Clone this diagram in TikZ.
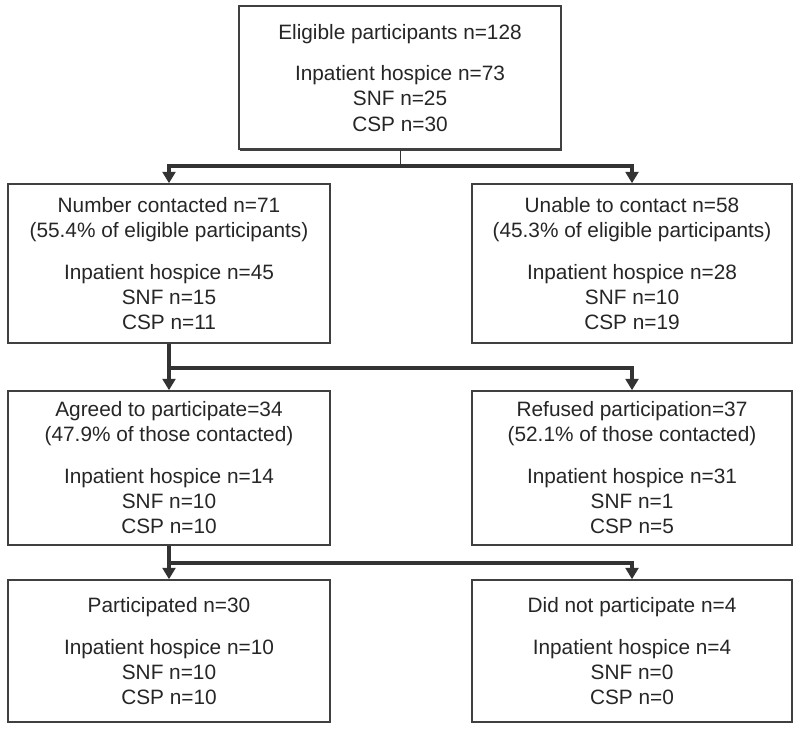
\documentclass[tikz,border=0pt]{standalone}
\usepackage{fontspec}
\setmainfont{Liberation Sans}
\usetikzlibrary{arrows.meta,shadows}

\tikzset{
  box/.style={draw=black!75, line width=1.1pt, fill=white, align=center, inner sep=2pt,
    text=black!85, font=\fontsize{14.8}{17.8}\selectfont,
    drop shadow={shadow xshift=1pt, shadow yshift=-1pt, fill=black!75, opacity=1}},
  link/.style={draw=black!80, line width=2.6pt},
  arr/.style={link, -{Triangle[width=9pt,length=8pt]}}
}

\begin{document}
\begin{tikzpicture}
    \useasboundingbox (0,0) rectangle (20,-18.3);

    % top: all eligible
    \node[box, minimum width=8.05cm, minimum height=3.575cm] (elig) at (10,-1.94)
        {Eligible participants n=128\\[12pt]Inpatient hospice n=73\\SNF n=25\\CSP n=30};

    % row 2: contacted (left), not reached (right)
    \node[box, minimum width=8.05cm, minimum height=3.975cm] (contacted) at (4.225,-6.5875)
        {Number contacted n=71\\(55.4\% of eligible participants)\\[12pt]Inpatient hospice n=45\\SNF n=15\\CSP n=11};
    \node[box, minimum width=8.0cm, minimum height=3.975cm] (unable) at (15.8,-6.5875)
        {Unable to contact n=58\\(45.3\% of eligible participants)\\[12pt]Inpatient hospice n=28\\SNF n=10\\CSP n=19};

    % row 3: agreed (left), refused (right)
    \node[box, minimum width=8.05cm, minimum height=3.85cm] (agreed) at (4.225,-11.7)
        {Agreed to participate=34\\(47.9\% of those contacted)\\[12pt]Inpatient hospice n=14\\SNF n=10\\CSP n=10};
    \node[box, minimum width=8.0cm, minimum height=3.85cm] (refused) at (15.8,-11.7)
        {Refused participation=37\\(52.1\% of those contacted)\\[12pt]Inpatient hospice n=31\\SNF n=1\\CSP n=5};

    % row 4: participated (left), did not (right)
    \node[box, minimum width=8.05cm, minimum height=3.55cm] (participated) at (4.225,-16.275)
        {Participated n=30\\[12pt]Inpatient hospice n=10\\SNF n=10\\CSP n=10};
    \node[box, minimum width=8.0cm, minimum height=3.55cm] (notpart) at (15.8,-16.275)
        {Did not participate n=4\\[12pt]Inpatient hospice n=4\\SNF n=0\\CSP n=0};

    % split below the top box
    \coordinate (bus1) at (10,-4.15);
    \draw[draw=black!80, line width=0.7pt] (elig.south) -- (bus1);
    \foreach \t in {contacted,unable} \draw[arr] (bus1) -| (\t.north);

    % splits below the left boxes
    \foreach \a/\l/\r/\y in {contacted/agreed/refused/-9.2, agreed/participated/notpart/-14.075} {
        \draw[arr] (\a.south) -- (\l.north);
        \draw[arr] (\a.south |- 0,\y) -| (\r.north);
    }
\end{tikzpicture}
\end{document}
